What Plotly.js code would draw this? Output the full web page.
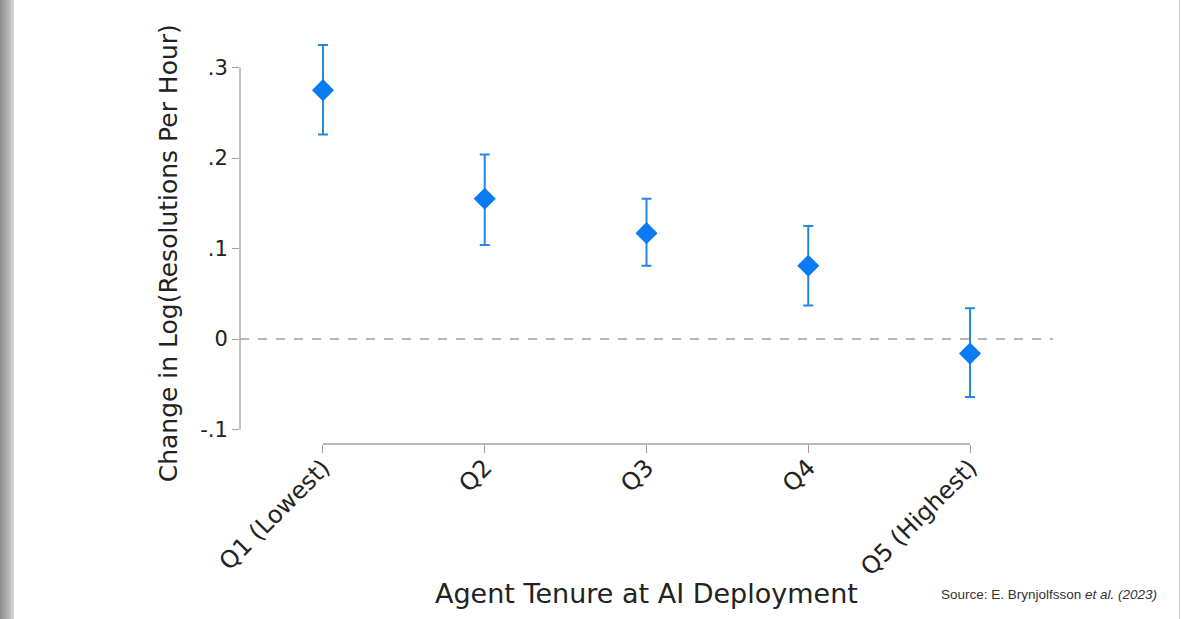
<!DOCTYPE html>
<html>
<head>
<meta charset="utf-8">
<script src="https://cdn.plot.ly/plotly-3.0.1.min.js"></script>
<style>
  html, body { margin: 0; padding: 0; background: #fff; overflow: hidden; }
  #chart { position: absolute; left: 0; top: 0; width: 1182px; height: 619px; }
  #lborder { position: absolute; left: 0; top: 0; width: 14px; height: 619px;
             background: linear-gradient(to right, #8c8c8c, #b5b5b5 60%, #d8d8d8); z-index: 5; }
  #rborder { position: absolute; left: 1179px; top: 0; width: 1px; height: 619px; background: #d0d0d0; z-index: 5; }
</style>
</head>
<body>
<div id="chart"></div>
<div id="lborder"></div>
<div id="rborder"></div>
<script>
// Data
const categories = ["Q1 (Lowest)", "Q2", "Q3", "Q4", "Q5 (Highest)"];
const estimates  = [0.275, 0.155, 0.117, 0.081, -0.016];
const ciUpper    = [0.325, 0.204, 0.155, 0.125, 0.034];
const ciLower    = [0.226, 0.104, 0.081, 0.037, -0.064];
const yTickVals  = [-0.1, 0, 0.1, 0.2, 0.3];
const yTickText  = ["-.1", "0", ".1", ".2", ".3"];
const yTitle = "Change in Log(Resolutions Per Hour)";
const xTitle = "Agent Tenure at AI Deployment";
const sourceNote = "Source: E. Brynjolfsson <i>et al. (2023)</i>";

const errPlus  = estimates.map((v, i) => ciUpper[i] - v);
const errMinus = estimates.map((v, i) => v - ciLower[i]);

const axisGray = "#a0a0a0";
const fontFam = "DejaVu Sans, Verdana, sans-serif";

const trace = {
  type: "scatter",
  mode: "markers",
  x: categories,
  y: estimates,
  marker: { symbol: "diamond", size: 17, color: "#0a7bf2" },
  error_y: {
    type: "data", symmetric: false,
    array: errPlus, arrayminus: errMinus,
    color: "#2a86dc", thickness: 2, width: 5
  },
  hoverinfo: "x+y",
  showlegend: false
};

const layout = {
  width: 1182, height: 619,
  margin: { l: 240, r: 129, t: 25, b: 175 },
  paper_bgcolor: "#ffffff",
  plot_bgcolor: "#ffffff",
  font: { family: fontFam, color: "#222" },
  xaxis: {
    type: "category",
    range: [-0.513, 4.513],
    showgrid: false, zeroline: false, showline: false,
    ticks: "outside", ticklen: 8, tickcolor: axisGray, tickwidth: 1.2,
    tickangle: -45,
    ticklabelstandoff: -9,
    tickfont: { size: 24, color: "#222", family: fontFam },
    automargin: false, fixedrange: true
  },
  yaxis: {
    range: [-0.116, 0.347],
    tickvals: yTickVals, ticktext: yTickText,
    showgrid: false, zeroline: false, showline: false,
    ticks: "outside", ticklen: 7, tickcolor: axisGray, tickwidth: 1.2,
    tickfont: { size: 21, color: "#222", family: fontFam },
    automargin: false, fixedrange: true
  },
  shapes: [
    // zero reference line
    { type: "line", xref: "paper", yref: "y", x0: 0, x1: 1, y0: 0, y1: 0,
      line: { color: axisGray, width: 1.3, dash: "dash" }, layer: "below" },
    // y axis line spanning the labelled range
    { type: "line", xref: "paper", yref: "y", x0: 0, x1: 0,
      y0: yTickVals[0], y1: yTickVals[yTickVals.length - 1],
      line: { color: axisGray, width: 1.3 } },
    // x axis line spanning the categories
    { type: "line", xref: "x", yref: "paper", x0: categories[0], x1: categories[categories.length - 1],
      y0: 0, y1: 0, line: { color: axisGray, width: 1.3 } }
  ],
  annotations: [
    { xref: "paper", yref: "paper", x: -0.0886, y: 0.455, xanchor: "center", yanchor: "middle",
      textangle: -90, showarrow: false, text: yTitle,
      font: { family: fontFam, size: 25, color: "#222" } },
    { xref: "paper", yref: "paper", x: 0.5, y: -0.356, xanchor: "center", yanchor: "middle",
      showarrow: false, text: xTitle,
      font: { family: fontFam, size: 27, color: "#222" } },
    { xref: "paper", yref: "paper", x: 1.13, y: -0.36, xanchor: "right", yanchor: "middle",
      showarrow: false, text: sourceNote,
      font: { family: "Liberation Sans Narrow, Arial Narrow, Liberation Sans, sans-serif", size: 13.5, color: "#333" } }
  ]
};

Plotly.newPlot("chart", [trace], layout, { displayModeBar: false });
</script>
</body>
</html>
